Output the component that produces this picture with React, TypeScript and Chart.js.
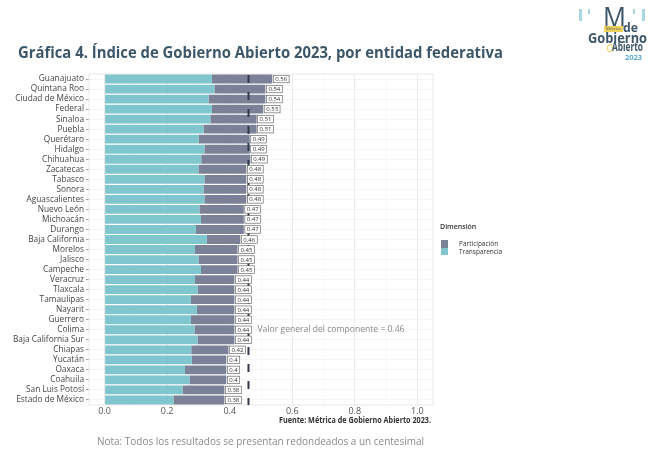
import React, { useEffect, useLayoutEffect, useRef } from "react";
import { Chart, registerables } from "chart.js";
Chart.register(...registerables);

const estados = [
  "Guanajuato", "Quintana Roo", "Ciudad de México", "Federal", "Sinaloa", "Puebla",
  "Querétaro", "Hidalgo", "Chihuahua", "Zacatecas", "Tabasco", "Sonora",
  "Aguascalientes", "Nuevo León", "Michoacán", "Durango", "Baja California", "Morelos",
  "Jalisco", "Campeche", "Veracruz", "Tlaxcala", "Tamaulipas", "Nayarit",
  "Guerrero", "Colima", "Baja California Sur", "Chiapas", "Yucatán", "Oaxaca",
  "Coahuila", "San Luis Potosí", "Estado de México",
];

const transparencia = [
  0.343, 0.351, 0.332, 0.343, 0.338, 0.316,
  0.301, 0.319, 0.309, 0.300, 0.319, 0.316,
  0.319, 0.303, 0.308, 0.292, 0.327, 0.289,
  0.300, 0.308, 0.289, 0.298, 0.276, 0.295,
  0.276, 0.287, 0.297, 0.277, 0.279, 0.257,
  0.271, 0.249, 0.220,
];

const participacion = [
  0.193, 0.163, 0.182, 0.164, 0.148, 0.170,
  0.163, 0.145, 0.157, 0.153, 0.134, 0.137,
  0.134, 0.142, 0.137, 0.153, 0.107, 0.136,
  0.125, 0.117, 0.126, 0.117, 0.139, 0.120,
  0.139, 0.128, 0.118, 0.119, 0.110, 0.132,
  0.118, 0.134, 0.163,
];

const indice = [
  0.56, 0.54, 0.54, 0.53, 0.51, 0.51,
  0.49, 0.49, 0.49, 0.48, 0.48, 0.48,
  0.48, 0.47, 0.47, 0.47, 0.46, 0.45,
  0.45, 0.45, 0.44, 0.44, 0.44, 0.44,
  0.44, 0.44, 0.44, 0.42, 0.4, 0.4,
  0.4, 0.38, 0.38,
];

const xTicks = [0, 0.1, 0.2, 0.3, 0.4, 0.5, 0.6, 0.7, 0.8, 0.9, 1.0];
const valorGeneral = 0.46;
const anotacionEstado = "Colima";

const TEAL = "#80c6cf";
const SLATE = "#7b8298";
const FONT = "'Open Sans', 'DejaVu Sans', sans-serif";
const LOGO_DARK = "#3e5669";
const LOGO_BLUE = "#a9d5e2";
const LOGO_YELLOW = "#f1d35c";

function FitText(props: { width: number; style: React.CSSProperties; children: React.ReactNode }) {
  const ref = useRef<HTMLSpanElement>(null);
  useLayoutEffect(() => {
    const el = ref.current;
    if (!el) return;
    el.style.transform = "none";
    const w = el.getBoundingClientRect().width;
    if (w > 0) el.style.transform = `scaleX(${props.width / w})`;
  }, [props.width]);
  return (
    <span
      ref={ref}
      style={{ position: "absolute", whiteSpace: "nowrap", transformOrigin: "left center", ...props.style }}
    >
      {props.children}
    </span>
  );
}

export default function App() {
  const ref = useRef<HTMLCanvasElement>(null);

  useEffect(() => {
    const panelPlugin = {
      id: "panelBorder",
      beforeDatasetsDraw(chart: any) {
        const { ctx, chartArea: a } = chart;
        ctx.save();
        ctx.strokeStyle = "#e3e3e3";
        ctx.lineWidth = 0.8;
        ctx.strokeRect(a.left, a.top, a.right - a.left, a.bottom - a.top);
        ctx.restore();
      },
    };

    const overlayPlugin = {
      id: "overlay",
      afterDatasetsDraw(chart: any) {
        const { ctx, chartArea: a } = chart;
        const xs = chart.scales.x;
        const ys = chart.scales.y;
        const mx = xs.getPixelForValue(valorGeneral);
        ctx.save();
        ctx.strokeStyle = "#323a4b";
        ctx.lineWidth = 2;
        ctx.setLineDash([8, 9]);
        ctx.beginPath();
        ctx.moveTo(mx, a.top + 1);
        ctx.lineTo(mx, a.bottom);
        ctx.stroke();
        ctx.restore();

        ctx.save();
        ctx.font = `6px ${FONT}`;
        ctx.textBaseline = "middle";
        ctx.textAlign = "left";
        estados.forEach((_, i) => {
          const total = transparencia[i] + participacion[i];
          const x = xs.getPixelForValue(total) + 1;
          const y = ys.getPixelForValue(i);
          const txt = String(indice[i]);
          const tw = ctx.measureText(txt).width;
          const w = tw + 4;
          const h = 7.5;
          ctx.fillStyle = "#ffffff";
          ctx.fillRect(x, y - h / 2, w, h);
          ctx.strokeStyle = "#555";
          ctx.lineWidth = 0.6;
          ctx.strokeRect(x, y - h / 2, w, h);
          ctx.fillStyle = "#333";
          ctx.fillText(txt, x + 2, y + 0.3);
        });
        ctx.restore();

        ctx.save();
        ctx.font = `8.6px ${FONT}`;
        ctx.fillStyle = "#8a8a8a";
        ctx.textBaseline = "middle";
        ctx.textAlign = "left";
        const ai = estados.indexOf(anotacionEstado);
        ctx.fillText(
          `Valor general del componente = ${valorGeneral}`,
          mx + 9,
          ys.getPixelForValue(ai)
        );
        ctx.restore();
      },
    };

    const chart = new Chart(ref.current as HTMLCanvasElement, {
      type: "bar",
      data: {
        labels: estados,
        datasets: [
          {
            label: "Transparencia",
            data: transparencia,
            backgroundColor: TEAL,
            barPercentage: 0.88,
            categoryPercentage: 1,
            borderWidth: 0,
          },
          {
            label: "Participación",
            data: participacion,
            backgroundColor: SLATE,
            barPercentage: 0.88,
            categoryPercentage: 1,
            borderWidth: 0,
          },
        ],
      },
      options: {
        indexAxis: "y",
        responsive: false,
        animation: false,
        layout: { padding: { left: 0, top: 74, right: 217, bottom: 0 } },
        plugins: { legend: { display: false }, tooltip: { enabled: false } },
        scales: {
          x: {
            stacked: true,
            min: -0.05,
            max: 1.05,
            afterBuildTicks: (s: any) => {
              s.ticks = xTicks.map((v) => ({ value: v }));
            },
            afterFit: (s: any) => {
              s.height = 50;
            },
            grid: {
              color: (c: any) =>
                Math.round((c.tick?.value ?? 0) * 10) % 2 === 0 ? "#e9e9e9" : "#f3f3f3",
              lineWidth: (c: any) =>
                Math.round((c.tick?.value ?? 0) * 10) % 2 === 0 ? 0.9 : 0.5,
              drawTicks: false,
            },
            border: { display: false },
            ticks: {
              padding: 1,
              color: "#555",
              font: { family: FONT, size: 9 },
              callback: (v: any, i: number) => (i % 2 === 0 ? Number(v).toFixed(1) : ""),
            },
          },
          y: {
            stacked: true,
            afterFit: (s: any) => {
              s.width = 89;
            },
            grid: {
              offset: false,
              color: "#eeeeee",
              lineWidth: 0.6,
              tickLength: 3,
              tickColor: "#666",
            },
            border: { display: false },
            ticks: {
              autoSkip: false,
              padding: 2,
              color: "#444",
              font: { family: FONT, size: 8.3 },
            },
          },
        },
      } as any,
      plugins: [panelPlugin, overlayPlugin],
    });
    return () => chart.destroy();
  }, []);

  const bar = (left: number, top: number, w: number, h: number) => (
    <div style={{ position: "absolute", left, top, width: w, height: h, background: LOGO_BLUE }} />
  );

  return (
    <div
      style={{
        position: "fixed",
        left: 0,
        top: 0,
        width: 650,
        height: 455,
        background: "#ffffff",
        overflow: "hidden",
        fontFamily: FONT,
      }}
    >
      <canvas ref={ref} width={650} height={455} style={{ position: "absolute", left: 0, top: 0 }} />

      {/* Title */}
      <FitText width={485} style={{ left: 18, top: 41, fontSize: 15.5, fontWeight: 700, color: "#3d5769" }}>
        Gráfica 4. Índice de Gobierno Abierto 2023, por entidad federativa
      </FitText>

      {/* Logo */}
      {bar(579, 9, 3, 12)}
      {bar(588, 9, 2, 5)}
      {bar(633, 9, 2, 5)}
      {bar(642, 9, 3, 12)}
      <FitText width={23} style={{ left: 603, top: 2, fontSize: 27, fontWeight: 500, color: LOGO_DARK, lineHeight: "30px" }}>
        M
      </FitText>
      <div style={{ position: "absolute", left: 604, top: 26, width: 19, height: 6, background: LOGO_YELLOW }} />
      <FitText width={15} style={{ left: 606, top: 26, fontSize: 4, color: LOGO_DARK, lineHeight: "6px" }}>
        Métrica
      </FitText>
      <FitText width={15} style={{ left: 623, top: 20, fontSize: 13, fontWeight: 700, color: LOGO_DARK, lineHeight: "14px" }}>
        de
      </FitText>
      <FitText width={59} style={{ left: 588, top: 30, fontSize: 14, fontWeight: 700, color: LOGO_DARK, lineHeight: "16px" }}>
        Gobierno
      </FitText>
      <div
        style={{
          position: "absolute",
          left: 607,
          top: 44,
          width: 4,
          height: 6,
          borderRadius: "50%",
          border: `1.5px solid ${LOGO_YELLOW}`,
        }}
      />
      <FitText width={31} style={{ left: 612, top: 40, fontSize: 12, fontWeight: 700, color: LOGO_DARK, lineHeight: "14px" }}>
        Abierto
      </FitText>
      <FitText width={17} style={{ left: 625, top: 53, fontSize: 7.5, fontWeight: 700, color: "#5aa9cc", lineHeight: "9px" }}>
        2023
      </FitText>

      {/* Legend */}
      <span style={{ position: "absolute", left: 440, top: 222, fontSize: 7, fontWeight: 600, color: "#333", lineHeight: "9px" }}>
        Dimensión
      </span>
      <div style={{ position: "absolute", left: 441, top: 240, width: 7, height: 7.5, background: SLATE }} />
      <div style={{ position: "absolute", left: 441, top: 247.5, width: 7, height: 7.5, background: TEAL }} />
      <span style={{ position: "absolute", left: 459, top: 239.5, fontSize: 6.5, color: "#333", lineHeight: "8px" }}>
        Participación
      </span>
      <span style={{ position: "absolute", left: 459, top: 247.5, fontSize: 6.5, color: "#333", lineHeight: "8px" }}>
        Transparencia
      </span>

      {/* Source */}
      <FitText width={152} style={{ left: 279, top: 415, fontSize: 8, fontWeight: 700, color: "#333", lineHeight: "10px" }}>
        Fuente: Métrica de Gobierno Abierto 2023.
      </FitText>

      {/* Note */}
      <FitText width={327} style={{ left: 97, top: 434, fontSize: 10.5, color: "#8a8a8a", lineHeight: "14px" }}>
        Nota: Todos los resultados se presentan redondeados a un centesimal
      </FitText>
    </div>
  );
}
